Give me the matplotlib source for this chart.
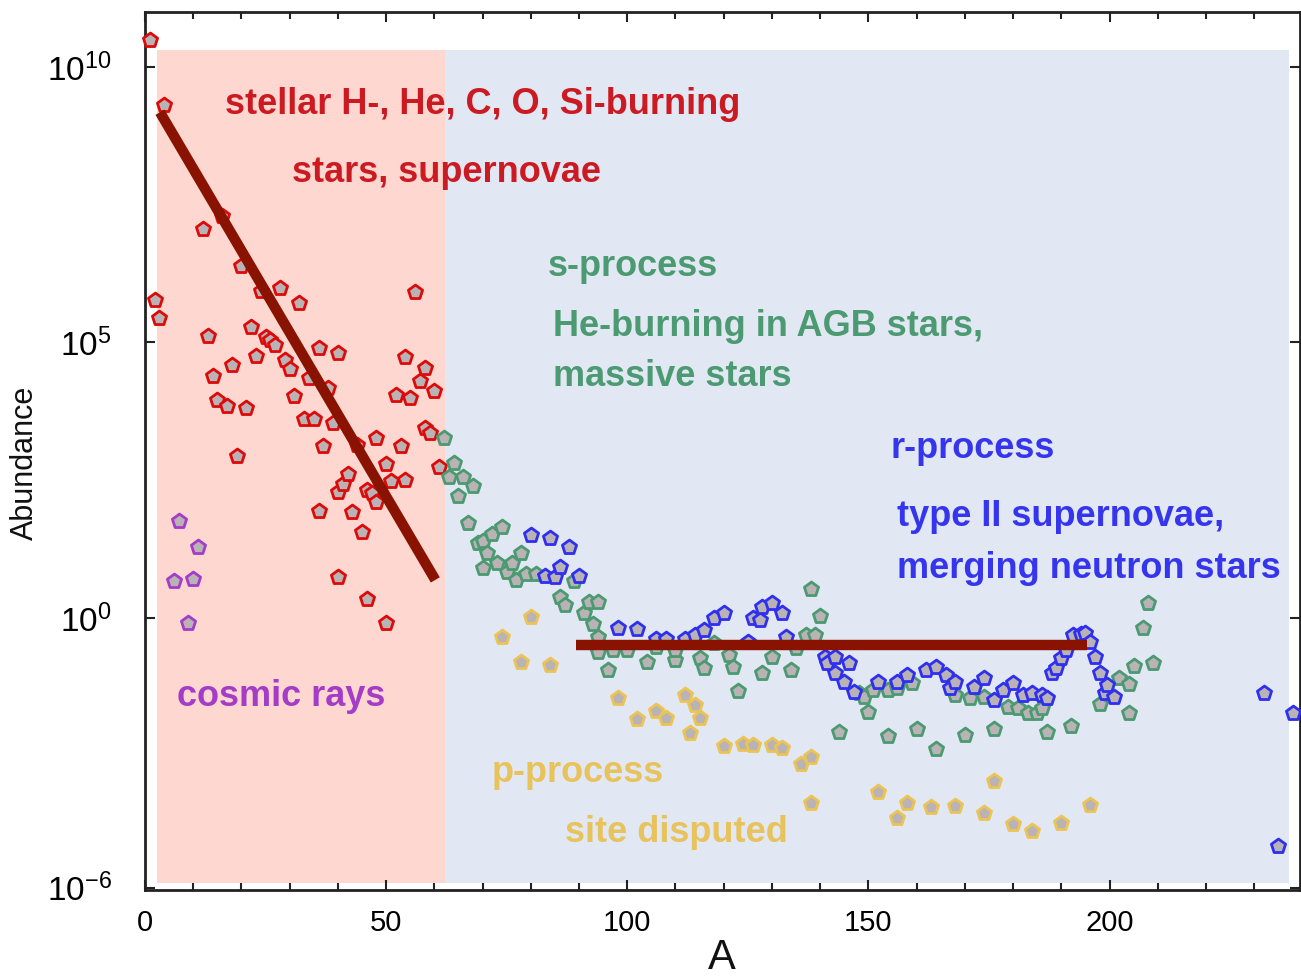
import numpy as np
import matplotlib
matplotlib.use("Agg")
import matplotlib.pyplot as plt
from matplotlib import font_manager as fm
from matplotlib.ticker import FixedLocator, FixedFormatter, MultipleLocator

# ---------------- data (A, log10 abundance) ----------------
red_A = [1, 2, 3, 4, 12, 13, 14, 15, 16, 17, 18, 19, 20, 21, 22, 23, 24, 25, 26, 27,
         28, 29, 30, 31, 32, 33, 34, 35, 36, 36, 37, 38, 39, 40, 40, 40, 41, 42, 43, 44,
         45, 46, 46, 47, 48, 48, 50, 50, 51, 52, 53, 54, 54, 55, 56, 57, 58, 58, 59, 60, 61]
red_logY = [10.49, 5.77, 5.45, 9.31, 7.06, 5.12, 4.39, 3.96, 7.30, 3.85, 4.60, 2.94, 6.39, 3.81,
            5.28, 4.75, 5.93, 5.10, 5.05, 4.95, 5.99, 4.68, 4.52, 4.03, 5.72, 3.61, 4.36, 3.61,
            4.90, 1.94, 3.12, 4.17, 3.54, 4.81, 2.29, 0.74, 2.43, 2.61, 1.92, 3.14, 1.56, 2.32,
            0.34, 2.27, 3.27, 2.10, 2.79, -0.09, 2.49, 4.05, 3.12, 4.74, 2.50, 3.99, 5.92, 4.30,
            4.54, 3.45, 3.36, 4.12, 2.74]

purple_A = [6, 7, 9, 10, 11]
purple_logY = [0.67, 1.76, -0.09, 0.71, 1.29]

green_A = [62, 63, 64, 65, 66, 67, 68, 69, 70, 70, 71, 72, 73, 74, 75, 76, 77, 78, 79, 81,
           86, 87, 89, 91, 92, 93, 94, 94, 94, 96, 97, 100, 104, 106, 110, 110, 115, 116, 118,
           121, 122, 123, 128, 130, 134, 135, 137, 138, 139, 140, 144, 148, 149, 150, 151, 154,
           154, 156, 159, 160, 164, 168, 170, 171, 174, 176, 179, 181, 183, 185, 186, 187, 192,
           198, 202, 204, 204, 205, 207, 208, 209]
green_logY = [3.27, 2.56, 2.81, 2.21, 2.56, 1.73, 2.40, 1.36, 1.40, 0.91, 1.18, 1.52, 1.00, 1.65,
              0.83, 1.00, 0.69, 1.18, 0.80, 0.80, 0.38, 0.24, 0.67, 0.09, 0.29, -0.11, 0.29,
              -0.34, -0.62, -0.94, -0.58, -0.58, -0.80, -0.53, -0.76, -0.58, -0.73, -0.91, -0.45,
              -0.67, -0.89, -1.32, -1.00, -0.71, -0.94, -0.55, -0.31, 0.53, -0.31, 0.04, -2.07,
              -1.36, -1.44, -1.70, -1.31, -1.31, -2.14, -1.27, -1.18, -2.01, -2.38, -1.40, -2.12,
              -1.45, -1.43, -2.01, -1.62, -1.63, -1.72, -1.72, -1.63, -2.07, -1.96, -1.56, -1.09,
              -1.20, -1.72, -0.87, -0.18, 0.27, -0.82]

blue_A = [80, 83, 84, 85, 86, 88, 90, 98, 102, 106, 108, 112, 114, 116, 118, 120, 125, 126,
          127.5, 128, 130, 132, 133, 141, 141.5, 143, 143, 145, 146, 147, 152, 156, 158, 162,
          164, 166, 167, 168, 172, 174, 176, 178, 180, 182, 184, 186, 187, 188, 189, 190, 191,
          192.5, 194, 195, 196, 197, 198, 199, 199.5, 201, 232, 235, 238]
blue_logY = [1.51, 0.76, 1.45, 0.74, 0.93, 1.29, 0.76, -0.18, -0.20, -0.38, -0.38, -0.38, -0.31,
             -0.22, 0.00, 0.09, -0.44, 0.00, -0.04, 0.20, 0.27, 0.09, -0.34, -0.71, -0.82, -0.71,
             -1.00, -1.16, -0.82, -1.34, -1.16, -1.16, -1.04, -0.94, -0.89, -1.04, -1.27, -1.16,
             -1.25, -1.09, -1.49, -1.31, -1.18, -1.40, -1.36, -1.40, -1.45, -1.00, -0.91, -0.73,
             -0.58, -0.31, -0.29, -0.27, -0.44, -0.71, -1.00, -1.36, -1.22, -1.43, -1.36, -4.15,
             -1.72]

yellow_A = [74, 78, 80, 84, 98, 102, 106, 108, 112, 113, 114, 115, 120, 124, 126, 130, 132,
            136, 138, 138, 152, 156, 158, 163, 168, 174, 176, 180, 184, 190, 196]
yellow_logY = [-0.34, -0.80, 0.02, -0.85, -1.45, -1.83, -1.69, -1.81, -1.40, -2.09, -1.58, -1.81,
               -2.32, -2.29, -2.31, -2.31, -2.36, -2.65, -2.52, -3.36, -3.16, -3.63, -3.36, -3.43,
               -3.41, -3.54, -2.96, -3.74, -3.87, -3.72, -3.39]

# trend lines (A, log10 abundance)
line1_A = [3.1, 60.2]
line1_logY = [9.18, 0.69]
line2_A = [89.4, 195.4]
line2_logY = [-0.49, -0.49]

ytick_logs = [10, 5, 0, -4.9]
ytick_labels = [r'$\mathregular{10^{10}}$', r'$\mathregular{10^{5}}$',
                r'$\mathregular{10^{0}}$', r'$\mathregular{10^{-6}}$']

# ---------------- fonts ----------------
names = {f.name for f in fm.fontManager.ttflist}
narrow = 'Liberation Sans Narrow' if 'Liberation Sans Narrow' in names else 'Liberation Sans'
plt.rcParams['font.family'] = ['Liberation Sans', 'DejaVu Sans']
plt.rcParams['mathtext.fontset'] = 'custom'
plt.rcParams['mathtext.rm'] = narrow

W, H = 1301, 976
fig = plt.figure(figsize=(W / 100, H / 100), dpi=100)
ax = fig.add_axes([145 / W, 1 - 890 / H, (1300 - 145) / W, (890 - 12) / H])

ax.set_yscale('log')
ax.set_xlim(0, 239.5)
ax.set_ylim(10 ** -4.94, 10 ** 11.0)

# background shaded regions
ax.fill_between([2.5, 62.2], 10 ** -4.81, 10 ** 10.31, color='#fdd7d0', lw=0, zorder=0)
ax.fill_between([62.2, 237.3], 10 ** -4.81, 10 ** 10.31, color='#e1e8f3', lw=0, zorder=0)

face = '#bab3b5'
ms = 115
lw = 2.0
def pts(A, L):
    return np.array(A), 10 ** np.array(L)

for A, L, c in [(red_A, red_logY, '#dd0a0a'), (purple_A, purple_logY, '#a43cc8'),
                (green_A, green_logY, '#4b9a72'), (yellow_A, yellow_logY, '#ecc454'),
                (blue_A, blue_logY, '#2f2ff0')]:
    x, y = pts(A, L)
    ax.scatter(x, y, s=ms, marker='p', facecolor=face, edgecolor=c, linewidths=lw, zorder=3,
               clip_on=False)

lc = '#8a1200'
ax.plot(line1_A, 10 ** np.array(line1_logY), color=lc, lw=7.5, solid_capstyle='butt', zorder=4)
ax.plot(line2_A, 10 ** np.array(line2_logY), color=lc, lw=7.5, solid_capstyle='butt', zorder=4)

# axes styling
for s in ax.spines.values():
    s.set_linewidth(2.0)
    s.set_color('#222222')
ax.xaxis.set_major_locator(MultipleLocator(50))
ax.xaxis.set_minor_locator(MultipleLocator(10))
ax.yaxis.set_major_locator(FixedLocator([10.0 ** v for v in ytick_logs]))
ax.yaxis.set_major_formatter(FixedFormatter(ytick_labels))
ax.yaxis.set_minor_locator(FixedLocator([]))
ax.tick_params(axis='both', which='both', direction='in', top=True, right=True, color='#222222')
ax.tick_params(axis='x', which='major', length=7, width=1.5, pad=14)
ax.tick_params(axis='x', which='minor', length=5, width=1.5)
ax.tick_params(axis='y', which='major', length=7, width=1.5, pad=24)
for t in ax.get_xticklabels():
    t.set_fontfamily(narrow)
    t.set_fontsize(21)
for t in ax.get_yticklabels():
    t.set_fontsize(24)

fig.text(25 / W, 1 - 463 / H, 'Abundance', rotation=90, ha='center', va='center',
         fontsize=22, color='#111111')
fig.text(722 / W, 1 - 958 / H, 'A', ha='center', va='center', fontsize=30, color='#111111')

def lab(xp, yp, s, c):
    fig.text(xp / W, 1 - yp / H, s, ha='left', va='center', fontsize=26, color=c,
             fontfamily=narrow, fontweight='bold', zorder=5)

red_t = '#cc1a22'
lab(225, 105, 'stellar H-, He, C, O, Si-burning', red_t)
lab(292, 172, 'stars, supernovae', red_t)
grn_t = '#4b9a72'
lab(548, 266, 's-process', grn_t)
lab(553, 327, 'He-burning in AGB stars,', grn_t)
lab(553, 376, 'massive stars', grn_t)
blu_t = '#3535ee'
lab(890, 448, 'r-process', blu_t)
lab(897, 517, 'type II supernovae,', blu_t)
lab(897, 568, 'merging neutron stars', blu_t)
lab(177, 697, 'cosmic rays', '#a43cc8')
yel_t = '#e8c25a'
lab(492, 773, 'p-process', yel_t)
lab(565, 832, 'site disputed', yel_t)

fig.savefig('out.png', dpi=100)
